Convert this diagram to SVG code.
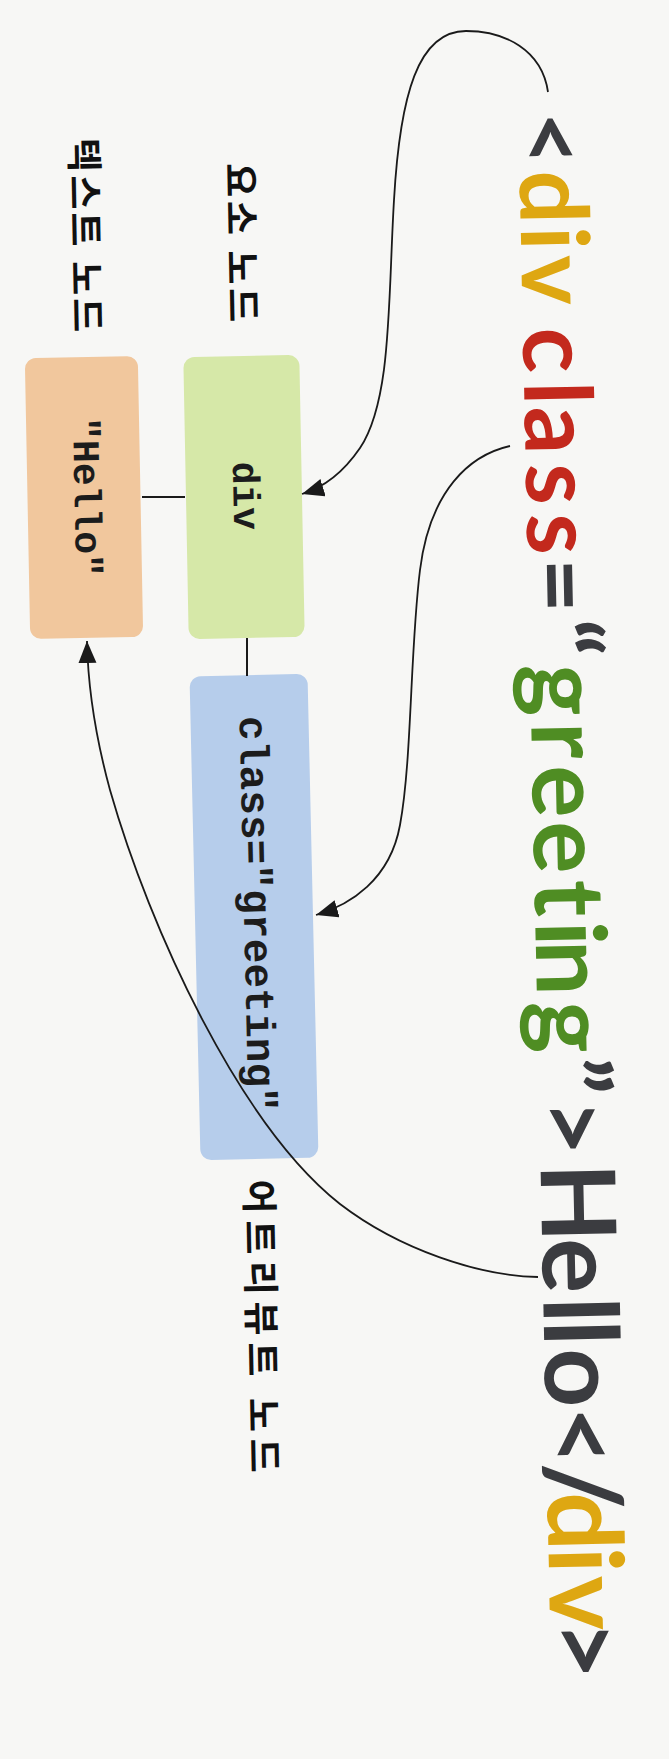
<svg xmlns="http://www.w3.org/2000/svg" width="669" height="1759" viewBox="0 0 669 1759">
  <style>
    .bg { fill: #f7f7f5; }
    .box { stroke: none; }
    .orange { fill: #f1c79d; }
    .green { fill: #d6e8a8; }
    .blue { fill: #b6cdeb; }
    .code { font-family: "Liberation Mono", "DejaVu Sans Mono", monospace; font-weight: 700; fill: #1c1c1c; }
    .label { font-family: "Noto Sans CJK KR", "Noto Sans", sans-serif; font-weight: 700; font-size: 37px; fill: #111111; }
    .big { font-family: Lato, "Liberation Sans", sans-serif; font-weight: 700; }
    .dark { fill: #3b3c40; }
    .gold { fill: #dea712; }
    .red { fill: #c3291d; }
    .grn { fill: #4f8d23; }
    .wire { fill: none; stroke: #1a1a1a; stroke-width: 2; }
    .curve { fill: none; stroke: #1a1a1a; stroke-width: 1.8; }
  </style>
  <defs>
    <marker id="arrow" markerUnits="userSpaceOnUse" markerWidth="24" markerHeight="20" refX="22" refY="9" orient="auto">
      <path d="M0,0 L22,9 L0,18 z" fill="#1a1a1a"/>
    </marker>
  </defs>

  <rect class="bg" x="0" y="0" width="669" height="1759"/>

  <!-- big source line -->
  <g id="source-code" transform="translate(516,0) rotate(88.8)">
    <text class="big" y="0" font-size="94"><tspan class="dark" x="112">&lt;</tspan><tspan class="gold" x="171 227 256">div</tspan><tspan class="red" x="328 382 407 464 514">class</tspan><tspan class="dark" x="559">=</tspan></text>
    <text class="big" y="0" font-size="98"><tspan class="dark" x="620">“</tspan><tspan class="grn" x="665 723 766 822 881 922 941 1002">greeting</tspan><tspan class="dark" x="1058 1100">”&gt;</tspan></text>
    <text class="big" y="0" font-size="103"><tspan class="dark" x="1164 1239 1298 1321 1349 1407 1463">Hello&lt;/</tspan><tspan class="gold" x="1493 1548 1577">div</tspan><tspan class="dark" x="1621">&gt;</tspan></text>
  </g>

  <!-- nodes -->
  <g id="node-text">
    <rect class="box orange" x="27.5" y="357" width="113" height="281" rx="11" transform="rotate(-1.1 84 497.5)"/>
    <text class="code" font-size="38" text-anchor="middle" dominant-baseline="central" transform="translate(85,497) rotate(88.9)">"Hello"</text>
  </g>
  <g id="node-div">
    <rect class="box green" x="186" y="356" width="116" height="282" rx="11" transform="rotate(-1.1 244 497)"/>
    <text class="code" font-size="38" text-anchor="middle" dominant-baseline="central" transform="translate(244,496) rotate(88.9)">div</text>
  </g>
  <g id="node-attr">
    <rect class="box blue" x="195" y="675" width="118" height="484" rx="11" transform="rotate(-1.3 254 917)"/>
    <text class="code" font-size="41" text-anchor="middle" dominant-baseline="central" textLength="396" lengthAdjust="spacing" transform="translate(255,914) rotate(88.7)">class="greeting"</text>
  </g>

  <!-- labels -->
  <g id="label-text-node">
    <text class="label" text-anchor="middle" dominant-baseline="central" textLength="194" lengthAdjust="spacing" transform="translate(88,235) rotate(88.9)">텍스트 노드</text>
  </g>
  <g id="label-element-node">
    <text class="label" text-anchor="middle" dominant-baseline="central" textLength="159" lengthAdjust="spacing" transform="translate(244,242.5) rotate(88.9)">요소 노드</text>
  </g>
  <g id="label-attr-node">
    <text class="label" text-anchor="middle" dominant-baseline="central" textLength="293" lengthAdjust="spacing" transform="translate(264,1326) rotate(88.9)">어트리뷰트 노드</text>
  </g>

  <!-- connectors -->
  <g id="connectors">
    <line class="wire" x1="142" y1="497" x2="185" y2="497"/>
    <line class="wire" x1="247" y1="638" x2="247" y2="676"/>
    <path class="curve" marker-end="url(#arrow)" d="M548,92 C542,50 505,31 466,31 C418,31 400,95 394,200 C388,300 392,400 360,448 C345,470 325,487 302,494"/>
    <path class="curve" marker-end="url(#arrow)" d="M510,446 C470,455 430,490 420,570 C410,650 412,760 400,825 C390,880 350,905 316,915"/>
    <path class="curve" marker-end="url(#arrow)" d="M538,1277 C480,1276 400,1250 340,1204 C240,1125 150,930 110,790 C95,735 88,690 87,641"/>
  </g>
</svg>
